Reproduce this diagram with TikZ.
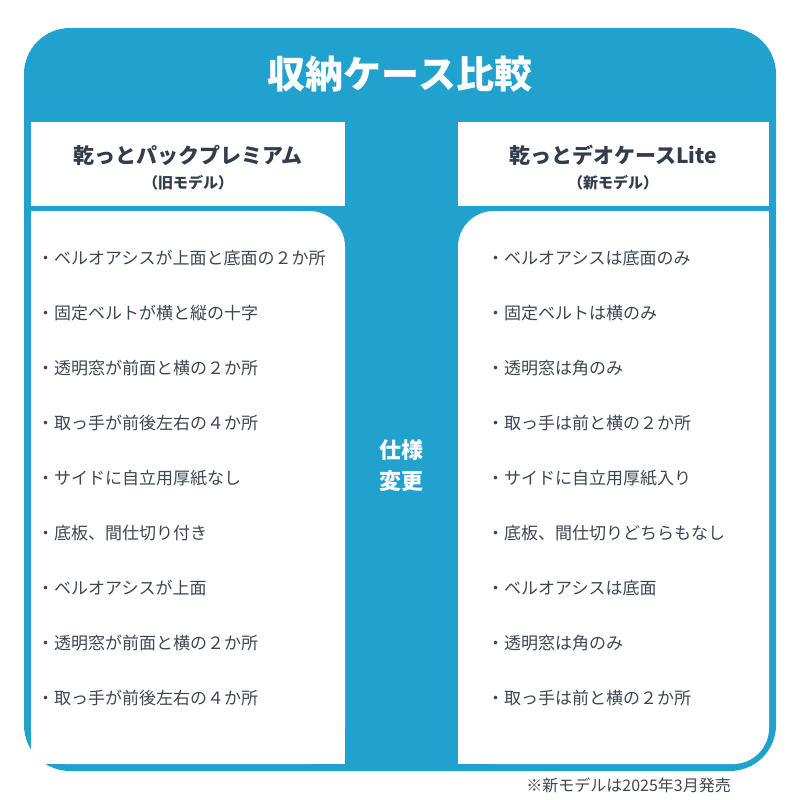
\documentclass[tikz,border=0pt]{standalone}
\usepackage{fontspec}
\setmainfont{Noto Sans CJK JP}
\newfontfamily\jpbold{Noto Sans CJK JP}[BoldFont=*,FakeBold=2]
\usetikzlibrary{positioning}
\definecolor{caseblue}{HTML}{21A1CD}
\definecolor{textgray}{HTML}{3E4654}
\definecolor{headnavy}{HTML}{333C4A}
\tikzset{
  item/.style={anchor=west,text=textgray,font=\fontsize{17}{20}\selectfont,inner sep=0pt},
  head/.style={text=headnavy,font=\fontsize{21}{24}\selectfont\bfseries,inner sep=0pt},
  sub/.style={text=headnavy,font=\fontsize{15}{18}\selectfont\bfseries,inner sep=0pt}
}
\begin{document}
\begin{tikzpicture}[x=1pt,y=-1pt,line join=round]
  \useasboundingbox (0,0) rectangle (800,800);
  % frame
  \fill [caseblue,rounded corners=46pt] (24,28) rectangle (776,771);
  \fill [white] (31,122) rectangle (345,206);
  \fill [white] (458,122) rectangle (769,206);
  \fill [white,rounded corners=36pt] (31,211) -- (31,764) -- (345,764) -- (345,211) -- cycle;
  \fill [white,rounded corners=36pt] (458,211) -- (458,764) -- (769,764) -- (769,211) -- cycle;
  \fill [white] (31,211) rectangle (100,300);
  \fill [white] (700,211) rectangle (769,300);
  \fill [white] (31,700) rectangle (100,764);
  \fill [white] (280,700) rectangle (345,764);
  \fill [white] (458,700) rectangle (520,764);
  % title
  \node (title) [text=white,font=\fontsize{38}{44}\selectfont\bfseries] at (400,74) {収納ケース比較};
  \node (oldname) [head] at (188,155) {乾っとパックプレミアム};
  \node (oldtag) [sub] at (188,183) {（旧モデル）};
  \node (newname) [head] at (613,155) {乾っとデオケースLite};
  \node (newtag) [sub] at (613,183) {（新モデル）};
  \node (change) [text=white,font=\fontsize{22}{31}\selectfont\bfseries,align=center] at (401,466) {仕様\\変更};
  % rows
  \foreach \i/\old/\new in {
    0/ベルオアシスが上面と底面の２か所/ベルオアシスは底面のみ,
    1/固定ベルトが横と縦の十字/固定ベルトは横のみ,
    2/透明窓が前面と横の２か所/透明窓は角のみ,
    3/取っ手が前後左右の４か所/取っ手は前と横の２か所,
    4/サイドに自立用厚紙なし/サイドに自立用厚紙入り,
    5/底板、間仕切り付き/底板、間仕切りどちらもなし,
    6/ベルオアシスが上面/ベルオアシスは底面,
    7/透明窓が前面と横の２か所/透明窓は角のみ,
    8/取っ手が前後左右の４か所/取っ手は前と横の２か所}
  {
    \node (old\i) [item] at (37,258+55*\i) {・\old};
    \node (new\i) [item] at (487,258+55*\i) {・\new};
  }
  \node (note) [anchor=east,text=textgray,font=\fontsize{16}{19}\selectfont,inner sep=0pt] at (731,785) {※新モデルは2025年3月発売};
\end{tikzpicture}
\end{document}
